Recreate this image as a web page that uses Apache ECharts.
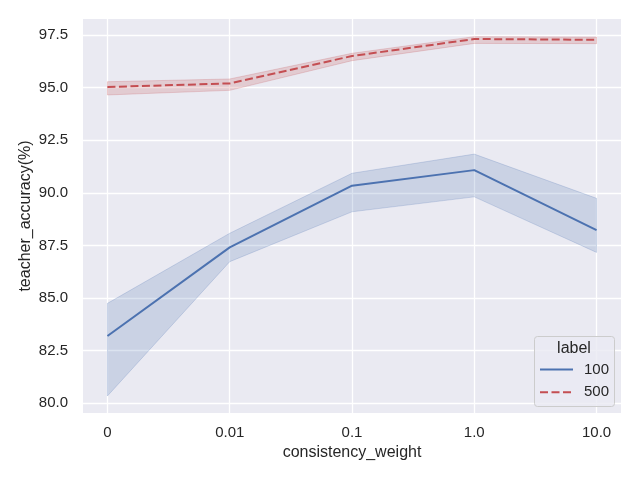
<!DOCTYPE html>
<html>
<head>
<meta charset="utf-8">
<script src="https://cdn.jsdelivr.net/npm/echarts@6/dist/echarts.min.js"></script>
<style>
  html, body { margin: 0; padding: 0; background: #fff; }
  #chart { width: 640px; height: 480px; }
</style>
</head>
<body>
<div id="chart"></div>
<script>
var weightLabels = ['0', '0.01', '0.1', '1.0', '10.0'];
var yTicks = [80.0, 82.5, 85.0, 87.5, 90.0, 92.5, 95.0, 97.5];

// label = 100
var mean100 = [83.20, 87.41, 90.34, 91.08, 88.23];
var low100  = [80.35, 86.73, 89.10, 89.81, 87.17];
var high100 = [84.75, 88.08, 90.93, 91.84, 89.74];

// label = 500
var mean500 = [95.03, 95.20, 96.50, 97.31, 97.27];
var low500  = [94.65, 94.87, 96.28, 97.10, 97.09];
var high500 = [95.28, 95.41, 96.63, 97.42, 97.40];

var blue = '#4C72B0';
var red = '#C44E52';
var textColor = '#262626';
var font = "'Liberation Sans', Arial, sans-serif";

function pts(arr) {
    return arr.map(function (v, i) { return [i, v]; });
}

// confidence band drawn as one polygon through the axis scales
function bandSeries(key, lo, hi, rgb) {
    return {
        name: key,
        type: 'custom',
        silent: true,
        z: 1,
        data: lo.map(function (v, i) { return [i, v, hi[i]]; }),
        encode: { x: 0, y: [1, 2] },
        renderItem: function (params, api) {
            if (params.dataIndex !== 0) return null;
            var poly = [];
            for (var i = 0; i < hi.length; i++) poly.push(api.coord([i, hi[i]]));
            for (var j = lo.length - 1; j >= 0; j--) poly.push(api.coord([j, lo[j]]));
            return {
                type: 'polygon',
                shape: { points: poly },
                style: {
                    fill: 'rgba(' + rgb + ',0.2)',
                    stroke: 'rgba(' + rgb + ',0.22)',
                    lineWidth: 1
                }
            };
        }
    };
}

var chart = echarts.init(document.getElementById('chart'));

var series = [
    bandSeries('b100', low100, high100, '76,114,176'),
    {
        name: '100',
        type: 'line',
        data: pts(mean100),
        symbol: 'none',
        lineStyle: { color: blue, width: 2 },
        itemStyle: { color: blue },
        z: 2
    },
    bandSeries('b500', low500, high500, '196,78,82'),
    {
        name: '500',
        type: 'line',
        data: pts(mean500),
        symbol: 'none',
        lineStyle: { color: red, width: 2, type: [8, 3.5] },
        itemStyle: { color: red },
        z: 2
    }
];

var option = {
    animation: false,
    textStyle: { fontFamily: font, color: textColor },
    grid: {
        left: 83, right: 19, top: 19, bottom: 67,
        show: true,
        backgroundColor: '#EAEAF2',
        borderWidth: 0
    },
    xAxis: {
        type: 'value',
        min: -0.2,
        max: 4.2,
        name: 'consistency_weight',
        nameLocation: 'middle',
        nameGap: 32,
        nameTextStyle: { fontSize: 16, color: textColor, fontFamily: font },
        axisLine: { show: false },
        axisTick: { show: false, customValues: [0, 1, 2, 3, 4] },
        axisLabel: {
            customValues: [0, 1, 2, 3, 4],
            fontSize: 15,
            color: textColor,
            fontFamily: font,
            margin: 12,
            formatter: function (v) { return weightLabels[Math.round(v)]; }
        },
        splitLine: { show: true, lineStyle: { color: '#ffffff', width: 1.3 } }
    },
    yAxis: {
        type: 'value',
        min: 79.54,
        max: 98.26,
        name: 'teacher_accuracy(%)',
        nameLocation: 'middle',
        nameGap: 49,
        nameMoveOverlap: false,
        nameTextStyle: { fontSize: 16, color: textColor, fontFamily: font },
        axisLine: { show: false },
        axisTick: { show: false, customValues: yTicks },
        axisLabel: {
            customValues: yTicks,
            fontSize: 15,
            color: textColor,
            fontFamily: font,
            margin: 15,
            formatter: function (v) { return v.toFixed(1); }
        },
        splitLine: { show: true, lineStyle: { color: '#ffffff', width: 1.3 } }
    },
    legend: {
        data: ['100', '500'],
        orient: 'vertical',
        left: 539,
        top: 362,
        z: 5,
        itemWidth: 33,
        itemHeight: 14,
        itemGap: 7.7,
        padding: 0,
        itemStyle: { opacity: 0 },
        textStyle: { fontSize: 15, color: textColor, fontFamily: font, padding: [0, 0, 0, 6] }
    },
    graphic: [{
        type: 'rect',
        shape: { x: 534.5, y: 336.5, width: 80, height: 70, r: 3 },
        style: { fill: 'rgba(234,234,242,0.8)', stroke: '#cccccc', lineWidth: 1 },
        z: 3
    }, {
        type: 'text',
        x: 574,
        y: 349,
        style: {
            text: 'label',
            font: '16px ' + font,
            fill: textColor,
            align: 'center',
            verticalAlign: 'middle'
        },
        z: 6
    }],
    series: series
};

chart.setOption(option);
</script>
</body>
</html>
